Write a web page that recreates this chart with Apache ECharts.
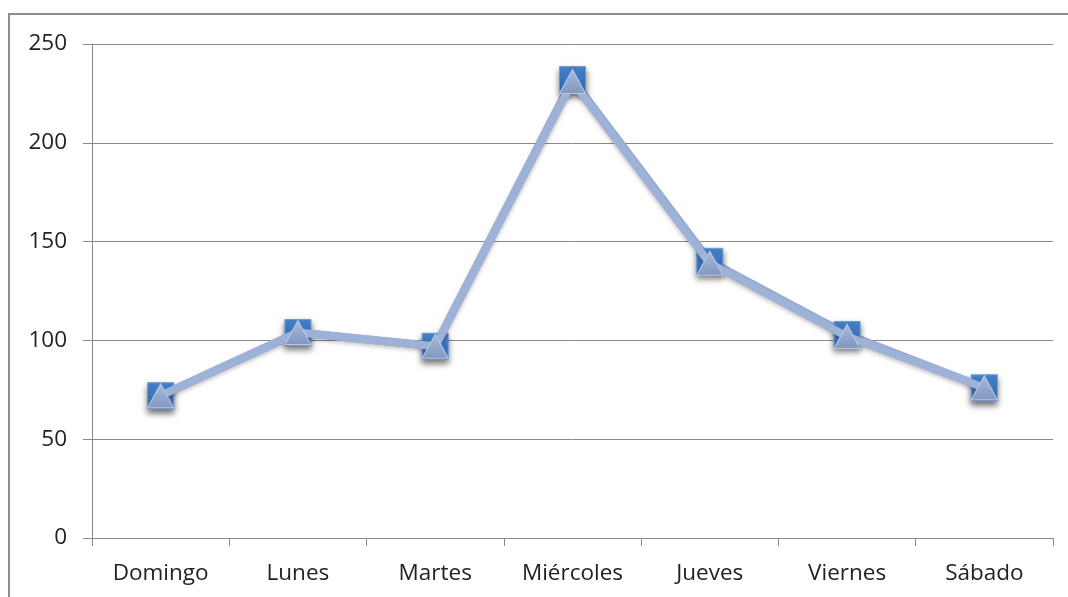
<!DOCTYPE html>
<html><head><meta charset="utf-8">
<script src="https://cdn.jsdelivr.net/npm/echarts@6/dist/echarts.min.js"></script>
<style>html,body{margin:0;padding:0;background:#fff}#c{width:1068px;height:597px}</style>
</head><body><div id="c"></div>
<script>
const categories = ['Domingo','Lunes','Martes','Miércoles','Jueves','Viernes','Sábado'];
const seriesSquares = [72, 104, 97, 232, 140, 103, 76];
const seriesTriangles = [72, 104, 97, 231, 139, 102, 76];
const yTicks = [0, 50, 100, 150, 200, 250];

const chart = echarts.init(document.getElementById('c'));
const font = 'Open Sans, Noto Sans, sans-serif';
chart.setOption({
  animation: false,
  backgroundColor: '#fff',
  graphic: [{type:'rect', shape:{x:9,y:14,width:1080,height:600}, style:{fill:'none', stroke:'#8c8c8c', lineWidth:2}}],
  grid: {left: 92, right: 15, top: 44, bottom: 59},
  xAxis: {
    type: 'category', data: categories, boundaryGap: true,
    axisLine: {lineStyle: {color: '#8a8a8a', width: 1}},
    axisTick: {show: true, length: 8, alignWithLabel: false, lineStyle: {color: '#8a8a8a'}},
    axisLabel: {color: '#222', fontSize: 22.5, fontFamily: font, margin: 24}
  },
  yAxis: {
    type: 'value', min: yTicks[0], max: yTicks[yTicks.length-1], interval: 50,
    axisLine: {show: true, lineStyle: {color: '#8a8a8a'}},
    axisTick: {show: true, length: 9, inside: false, lineStyle: {color: '#8a8a8a'}},
    splitLine: {lineStyle: {color: '#8a8a8a', width: 1}},
    axisLabel: {color: '#222', fontSize: 22.5, fontFamily: font, margin: 25}
  },
  series: [
    {
      type: 'line', data: seriesSquares, symbol: 'rect', symbolSize: 26,
      lineStyle: {color: '#9cb1d8', width: 8},
      itemStyle: {
        color: new echarts.graphic.LinearGradient(0,0,0,1,[{offset:0,color:'#4a8ad6'},{offset:1,color:'#2f6bb8'}]),
        borderColor: '#6f98cf', borderWidth: 1,
        shadowColor: 'rgba(0,0,0,0.55)', shadowBlur: 6, shadowOffsetY: 4
      },
      z: 2
    },
    {
      type: 'line', data: seriesTriangles, symbol: 'triangle', symbolSize: [26, 24],
      lineStyle: {color: '#9eb2d8', width: 8, shadowColor:'rgba(0,0,0,0.25)', shadowBlur:4, shadowOffsetY:2},
      itemStyle: {
        color: new echarts.graphic.LinearGradient(0,0,0,1,[{offset:0,color:'#a9bbdc'},{offset:1,color:'#8196c0'}]),
        borderColor: '#b8c8e6', borderWidth: 1
      },
      z: 3
    }
  ]
});
</script></body></html>
